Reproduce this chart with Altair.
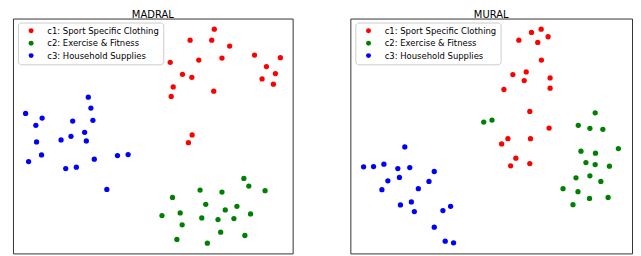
import altair as alt
import pandas as pd

categories = ["c1: Sport Specific Clothing", "c2: Exercise & Fitness", "c3: Household Supplies"]
colors = ["red", "green", "blue"]

# MADRAL panel embedding coordinates
madral_c1_x = [202.3, 178, 199.7, 217.7, 242.7, 268.7, 158, 186.7, 210, 254.7, 170.3, 179.7, 263.7, 250.3, 261.7, 161, 201.7, 159, 180, 176.3]
madral_c1_y = [225.3, 214.3, 214.3, 208.3, 199.3, 196.7, 192, 194.3, 196.3, 187.7, 180, 177, 180.7, 175.3, 170, 167.3, 163, 157.7, 119, 111.3]
madral_c2_x = [232, 237, 188, 210, 253.3, 160.3, 193.7, 225, 213.3, 149.7, 168, 189.7, 206, 222, 238.7, 170, 208.7, 233, 164.7, 195.3]
madral_c2_y = [75.3, 67.7, 63.7, 61.7, 63, 56.3, 49.3, 47.3, 43.7, 38, 40.7, 35.7, 34, 35, 39.7, 28.7, 21.3, 18, 14, 10.3]
madral_c3_x = [75.7, 78.3, 12.7, 29.3, 60, 80.3, 23, 72, 23.7, 48.3, 58.3, 73.7, 28.7, 15.7, 53, 63.7, 81.7, 105, 115.7, 94.3]
madral_c3_y = [157, 146, 140.7, 136, 133, 133.7, 128.7, 121.7, 112, 114, 117.7, 113, 99, 92.3, 85.3, 86.7, 94.7, 98.3, 99.3, 64.3]

# MURAL panel embedding coordinates
mural_c1_x = [191.7, 182, 198.7, 169.3, 188.3, 192, 176.7, 163.3, 174.7, 200.7, 200.7, 154.3, 180.3, 199.7, 158.3, 152, 181, 166.3, 161, 180.3]
mural_c1_y = [225.3, 222, 217.7, 214.3, 212, 194.3, 182.3, 179.7, 173.7, 176.3, 166, 164.7, 142.7, 126, 115.3, 110, 115.3, 95.7, 88, 90.3]
mural_c2_x = [134, 142.3, 246, 229, 240.7, 253.7, 231.7, 246.3, 269.3, 236.7, 246, 260.3, 226.7, 240.7, 251.7, 213.7, 228.7, 240.3, 259, 223.7]
mural_c2_y = [132, 134, 141.3, 128.7, 125.7, 124.7, 102.7, 100.7, 105.3, 91.3, 89.3, 87.7, 76, 78, 72.3, 65, 62, 55.3, 56.3, 49]
mural_c3_x = [54.7, 13.3, 23.3, 33.7, 47.7, 59.7, 84.3, 37.7, 49.3, 79, 31.7, 68.3, 50.3, 61.3, 64.3, 93, 100.7, 84.3, 95.3, 103.7]
mural_c3_y = [107, 87, 87.3, 89.7, 85.3, 86.3, 82.3, 73, 76.3, 72.3, 64, 65, 48.7, 51.7, 42, 43, 47.3, 26.3, 12.3, 10.7]


def frame(xs, ys):
    rows = []
    for cat, x, y in zip(categories, xs, ys):
        for a, b in zip(x, y):
            rows.append({"x": a, "y": b, "category": cat})
    return pd.DataFrame(rows)


def panel(df, title, w, h):
    legend = alt.Legend(
        title=None, orient="none", legendX=5, legendY=4, padding=4,
        symbolOffset=5, labelOffset=12, rowPadding=3.5, labelFontSize=8.5,
        labelFont="DejaVu Sans", labelColor="black", symbolSize=25,
        symbolType="circle", strokeColor="#cccccc", fillColor="white",
        cornerRadius=3, symbolStrokeWidth=0,
    )
    return alt.Chart(df).mark_circle(size=28, opacity=1).encode(
        x=alt.X("x:Q", axis=None, scale=alt.Scale(domain=[0, w], nice=False, zero=False)),
        y=alt.Y("y:Q", axis=None, scale=alt.Scale(domain=[0, h], nice=False, zero=False)),
        color=alt.Color("category:N", scale=alt.Scale(domain=categories, range=colors), legend=legend),
    ).properties(
        width=w, height=h,
        title=alt.TitleParams(title, fontSize=10, fontWeight="normal", font="DejaVu Sans", color="black", offset=-1),
    )


left = panel(frame([madral_c1_x, madral_c2_x, madral_c3_x], [madral_c1_y, madral_c2_y, madral_c3_y]), "MADRAL", 281, 236)
right = panel(frame([mural_c1_x, mural_c2_x, mural_c3_x], [mural_c1_y, mural_c2_y, mural_c3_y]), "MURAL", 283, 236)

chart = alt.hconcat(left, right, spacing=56).resolve_legend(color="independent").resolve_scale(color="independent").configure(
    padding={"left": 4, "top": 0, "right": 0, "bottom": 0},
).configure_view(stroke="#333333", strokeWidth=1)

chart.save("out.html", embed_options={"renderer": "svg", "actions": False})
